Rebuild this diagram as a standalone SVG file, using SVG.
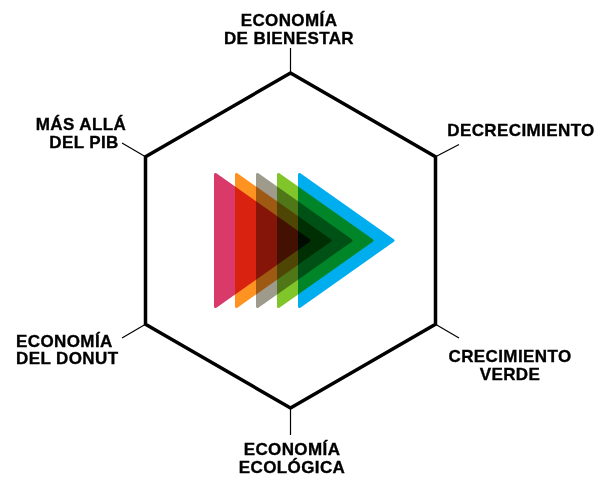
<svg xmlns="http://www.w3.org/2000/svg" width="608" height="477" viewBox="0 0 608 477">
<style>
.lbl{font-family:"Liberation Sans",Arial,sans-serif;font-weight:bold;font-size:17px;fill:#000;stroke:#000;stroke-width:0.35px;letter-spacing:0.4px}
.c{text-anchor:middle}
.tick{stroke:#000;stroke-width:1.2;fill:none}
.tri{mix-blend-mode:multiply;stroke-linejoin:round;stroke-width:3}
</style>
<rect width="608" height="477" fill="#fff"/>
<g id="connectors">
<line class="tick" x1="290.5" y1="73" x2="290.5" y2="48"/>
<line class="tick" x1="435.5" y1="156.75" x2="459" y2="144.5"/>
<line class="tick" x1="435.5" y1="324.25" x2="459" y2="338"/>
<line class="tick" x1="290.5" y1="408" x2="290.5" y2="435"/>
<line class="tick" x1="145.5" y1="324.25" x2="122" y2="338"/>
<line class="tick" x1="145.5" y1="156.75" x2="122" y2="143"/>
</g>
<g id="hexagon">
<polygon points="290.5,73 435.5,156.75 435.5,324.25 290.5,408 145.5,324.25 145.5,156.75" fill="none" stroke="#000" stroke-width="3.5" stroke-linejoin="miter"/>
</g>
<g id="arrows" style="isolation:isolate">
<path class="tri" fill="#D93A6A" stroke="#D93A6A" d="M215.5,174.5 L215.5,306.5 L309,240.5 Z"/>
<path class="tri" fill="#FF9322" stroke="#FF9322" d="M236.5,174.5 L236.5,306.5 L330,240.5 Z"/>
<path class="tri" fill="#9E9A8C" stroke="#9E9A8C" d="M257.5,174.5 L257.5,306.5 L351,240.5 Z"/>
<path class="tri" fill="#80C52A" stroke="#80C52A" d="M278.5,174.5 L278.5,306.5 L372,240.5 Z"/>
<path class="tri" fill="#00AEEF" stroke="#00AEEF" d="M299.5,174.5 L299.5,306.5 L393,240.5 Z"/>
</g>
<g id="node-economia-bienestar">
<text class="lbl c" x="289" y="26">ECONOMÍA</text>
<text class="lbl c" x="289" y="43.5">DE BIENESTAR</text>
</g>
<g id="node-decrecimiento">
<text class="lbl c" x="521" y="136">DECRECIMIENTO</text>
</g>
<g id="node-crecimiento-verde">
<text class="lbl c" x="510" y="362">CRECIMIENTO</text>
<text class="lbl c" x="510" y="379.5">VERDE</text>
</g>
<g id="node-economia-ecologica">
<text class="lbl c" x="292" y="455">ECONOMÍA</text>
<text class="lbl c" x="292" y="472.5">ECOLÓGICA</text>
</g>
<g id="node-economia-donut">
<text class="lbl" x="16" y="346.5">ECONOMÍA</text>
<text class="lbl" x="16" y="364">DEL DONUT</text>
</g>
<g id="node-mas-alla-pib">
<text class="lbl c" x="81" y="130">MÁS ALLÁ</text>
<text class="lbl c" x="84" y="147.5">DEL PIB</text>
</g>
</svg>
